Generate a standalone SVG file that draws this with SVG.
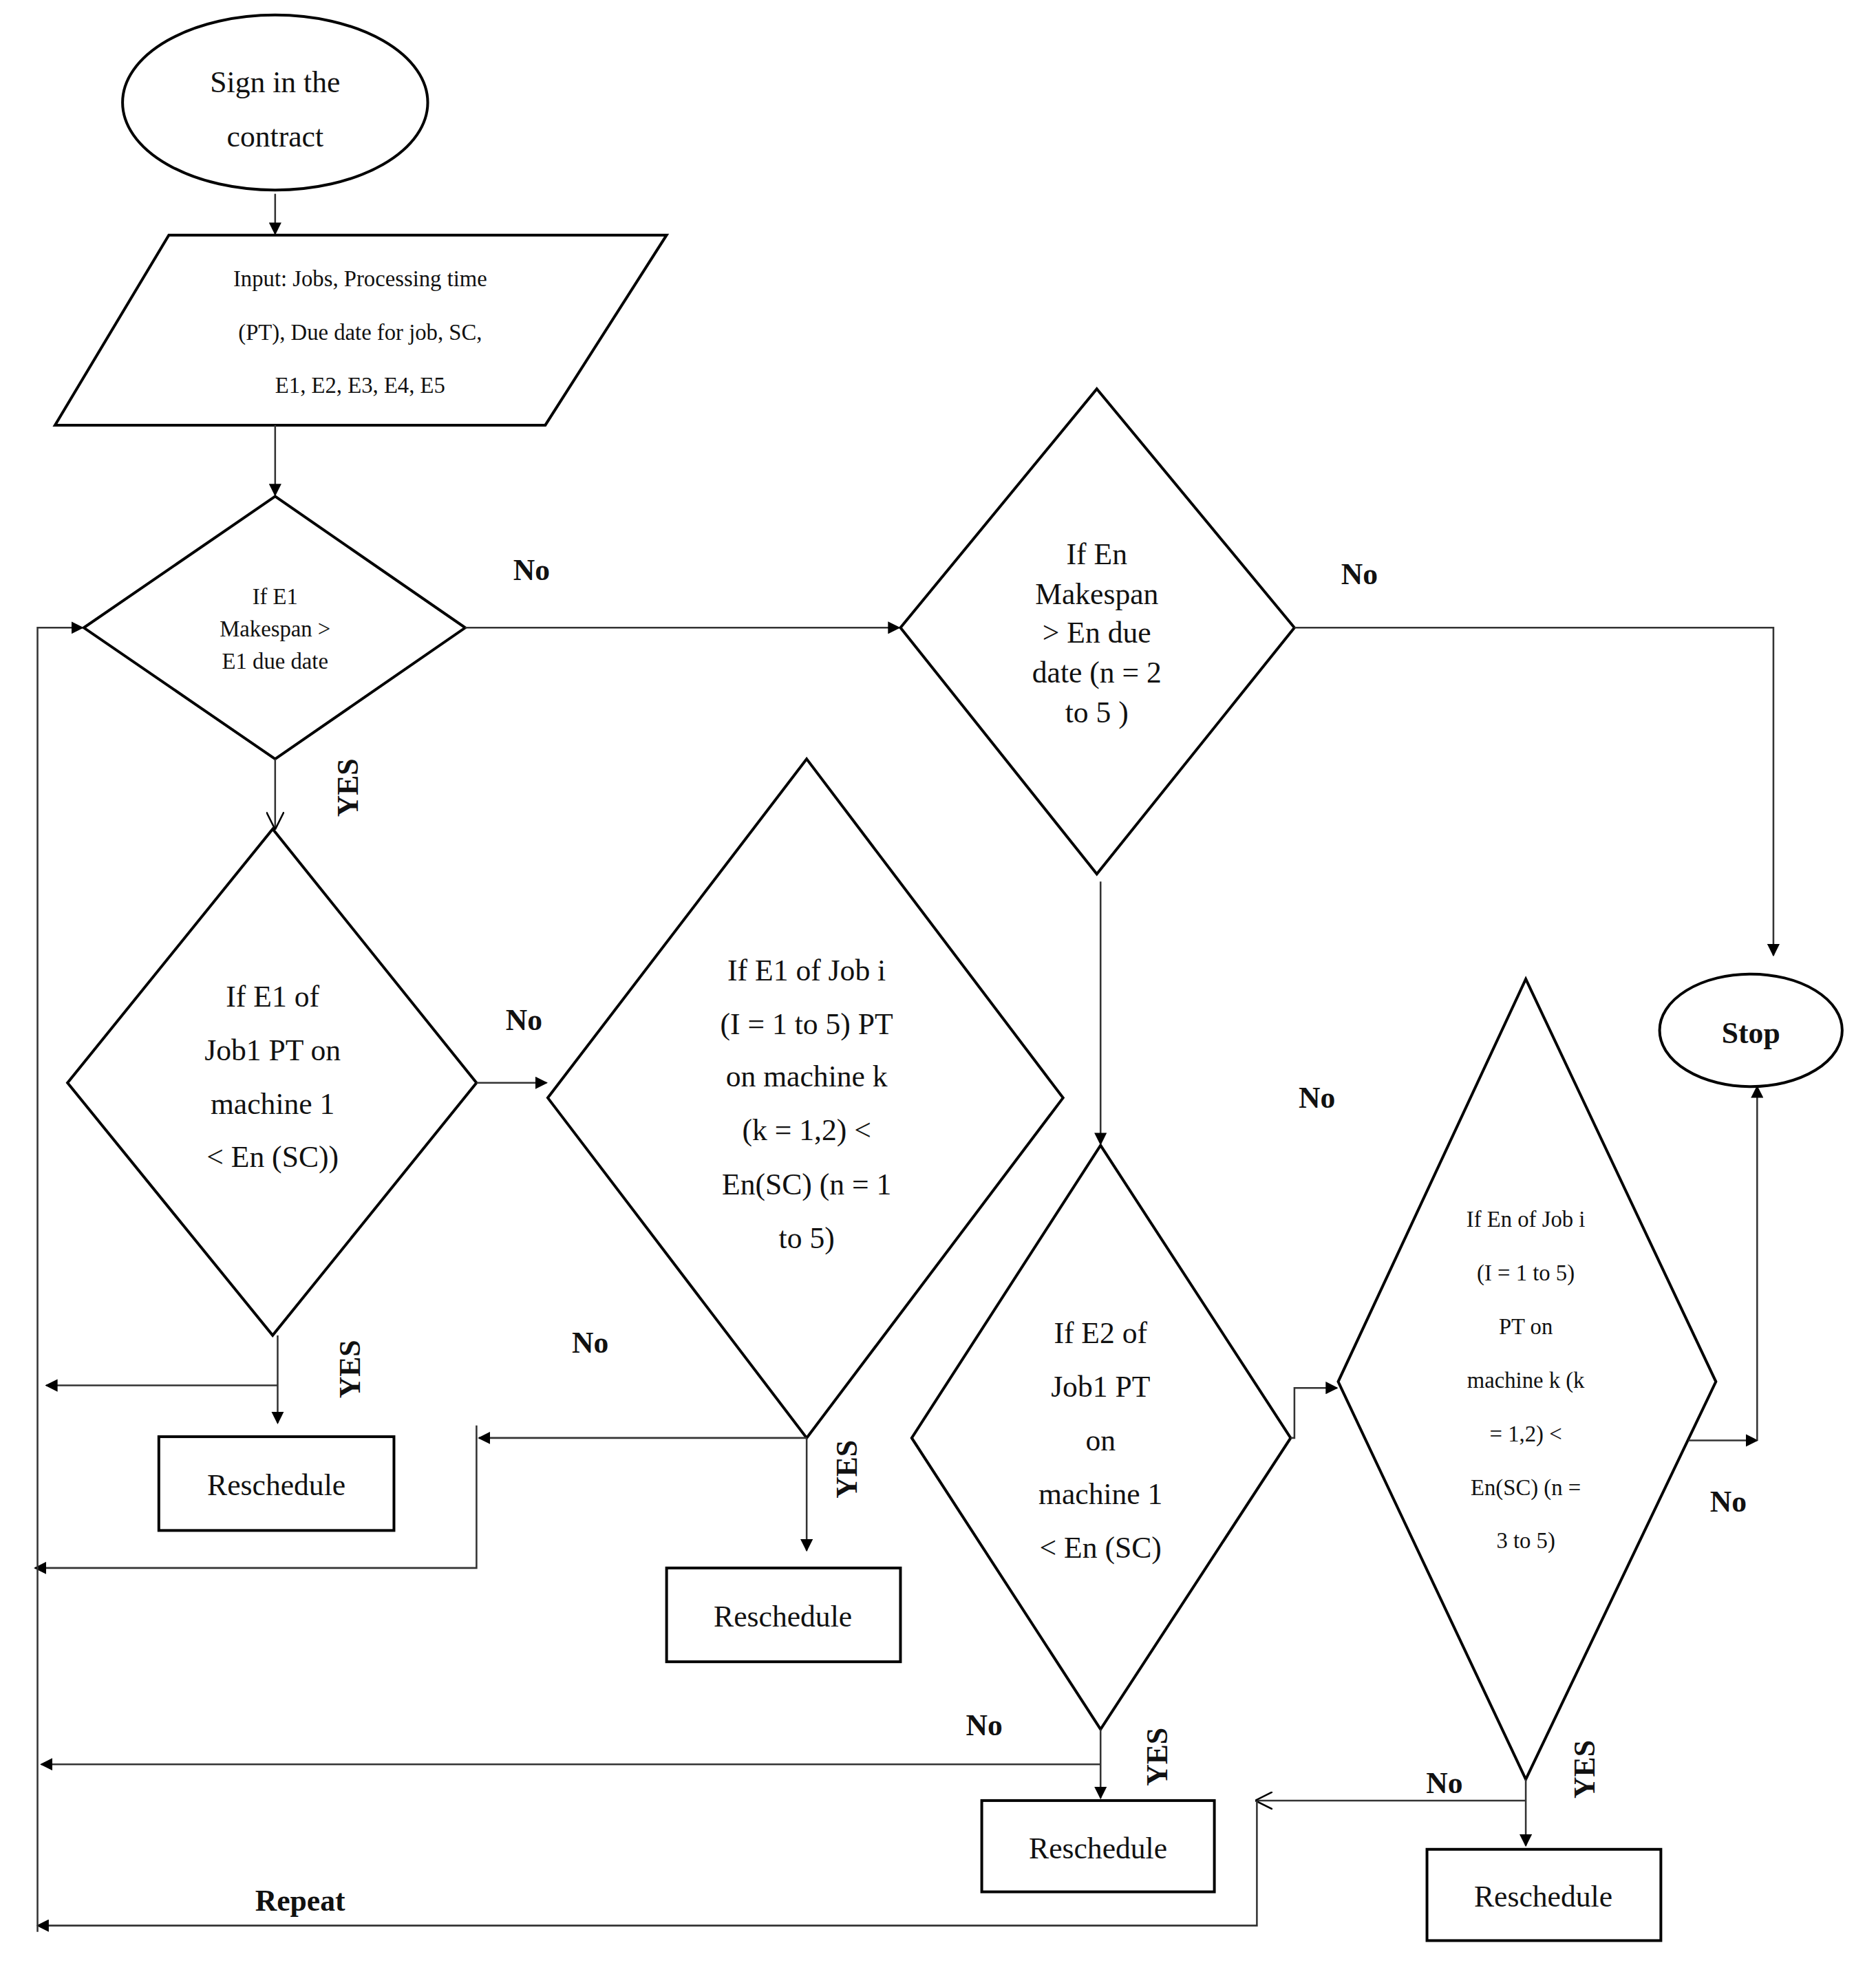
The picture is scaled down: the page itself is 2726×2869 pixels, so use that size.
<svg xmlns="http://www.w3.org/2000/svg" width="2726" height="2869" viewBox="0 0 2726 2869">
<style>
.s{fill:#fff;stroke:#000;stroke-width:2.2}
.c{fill:none;stroke:#333;stroke-width:1.4}
.t{font-family:"Liberation Serif",serif;font-size:24px;text-anchor:middle;fill:#111}
.sm{font-size:18px}
.b{font-family:"Liberation Serif",serif;font-weight:bold;font-size:24px;text-anchor:middle;fill:#111}
</style>
<defs>
<marker id="a" viewBox="0 0 10 10" refX="9" refY="5" markerWidth="10" markerHeight="10" markerUnits="userSpaceOnUse" orient="auto"><path d="M0,0L10,5L0,10z" fill="#000"/></marker>
<marker id="o" viewBox="0 0 10 10" refX="9" refY="5" markerWidth="14" markerHeight="14" markerUnits="userSpaceOnUse" orient="auto"><path d="M0,0L10,5L0,10" fill="none" stroke="#000" stroke-width="1"/></marker>
</defs>
<rect width="2726" height="2869" fill="#fff"/>
<g transform="scale(1.8173)">
<g id="start"><ellipse class="s" cx="220" cy="82" rx="122" ry="70"/><text class="t" x="220" y="74">Sign in the</text><text class="t" x="220" y="117">contract</text></g>
<g id="input"><polygon class="s" points="135,188 533,188 436,340 44,340"/><text class="t sm" x="288" y="229">Input: Jobs, Processing time</text><text class="t sm" x="288" y="272">(PT), Due date for job, SC,</text><text class="t sm" x="288" y="314">E1, E2, E3, E4, E5</text></g>
<g id="d1"><polygon class="s" points="220,397 372,502 220,607 67,502"/><text class="t sm" x="220" y="483">If E1</text><text class="t sm" x="220" y="509">Makespan &gt;</text><text class="t sm" x="220" y="535">E1 due date</text></g>
<g id="d2"><polygon class="s" points="877,311 1035,502 877,699 720,502"/><text class="t" x="877" y="451">If En</text><text class="t" x="877" y="483">Makespan</text><text class="t" x="877" y="514">&gt; En due</text><text class="t" x="877" y="546">date (n = 2</text><text class="t" x="877" y="578">to 5 )</text></g>
<g id="stop"><ellipse class="s" cx="1400" cy="824" rx="73" ry="45"/><text class="b" x="1400" y="834" font-size="26">Stop</text></g>
<g id="d3"><polygon class="s" points="218,663 381,866 218,1068 54,866"/><text class="t" x="218" y="805">If E1 of</text><text class="t" x="218" y="848">Job1 PT on</text><text class="t" x="218" y="891">machine 1</text><text class="t" x="218" y="933">&lt; En (SC))</text></g>
<g id="d4"><polygon class="s" points="645,607 850,878 645,1150 438,878"/><text class="t" x="645" y="784">If E1 of Job i</text><text class="t" x="645" y="827">(I = 1 to 5) PT</text><text class="t" x="645" y="869">on machine k</text><text class="t" x="645" y="912">(k = 1,2) &lt;</text><text class="t" x="645" y="955">En(SC) (n = 1</text><text class="t" x="645" y="998">to 5)</text></g>
<g id="d5"><polygon class="s" points="880,916 1032,1150 880,1383 729,1150"/><text class="t" x="880" y="1074">If E2 of</text><text class="t" x="880" y="1117">Job1 PT</text><text class="t" x="880" y="1160">on</text><text class="t" x="880" y="1203">machine 1</text><text class="t" x="880" y="1246">&lt; En (SC)</text></g>
<g id="d6"><polygon class="s" points="1220,783 1372,1105 1220,1423 1070,1105"/><text class="t sm" x="1220" y="981">If En of Job i</text><text class="t sm" x="1220" y="1024">(I = 1 to 5)</text><text class="t sm" x="1220" y="1067">PT on</text><text class="t sm" x="1220" y="1110">machine k (k</text><text class="t sm" x="1220" y="1153">= 1,2) &lt;</text><text class="t sm" x="1220" y="1196">En(SC) (n =</text><text class="t sm" x="1220" y="1238">3 to 5)</text></g>
<g id="r1"><rect class="s" x="127" y="1149" width="188" height="75"/><text class="t" x="221" y="1196">Reschedule</text></g>
<g id="r2"><rect class="s" x="533" y="1254" width="187" height="75"/><text class="t" x="626" y="1301">Reschedule</text></g>
<g id="r3"><rect class="s" x="785" y="1440" width="186" height="73"/><text class="t" x="878" y="1486">Reschedule</text></g>
<g id="r4"><rect class="s" x="1141" y="1479" width="187" height="73"/><text class="t" x="1234" y="1525">Reschedule</text></g>
<g id="connectors">
<path class="c" d="M220,155V187" marker-end="url(#a)"/>
<path class="c" d="M220,340V396" marker-end="url(#a)"/>
<path class="c" d="M372,502H719" marker-end="url(#a)"/>
<path class="c" d="M1035,502H1418V764" marker-end="url(#a)"/>
<path class="c" d="M220,607V662" marker-end="url(#o)"/>
<path class="c" d="M381,866H437" marker-end="url(#a)"/>
<path class="c" d="M222,1068V1138" marker-end="url(#a)"/>
<path class="c" d="M222,1108H37" marker-end="url(#a)"/>
<path class="c" d="M645,1150V1240" marker-end="url(#a)"/>
<path class="c" d="M645,1150H383" marker-end="url(#a)"/>
<path class="c" d="M381,1140V1254H28" marker-end="url(#a)"/>
<path class="c" d="M880,705V915" marker-end="url(#a)"/>
<path class="c" d="M1032,1150H1035V1110H1069" marker-end="url(#a)"/>
<path class="c" d="M1350,1152H1405" marker-end="url(#a)"/>
<path class="c" d="M1405,1152V869" marker-end="url(#a)"/>
<path class="c" d="M880,1383V1438" marker-end="url(#a)"/>
<path class="c" d="M880,1411H33" marker-end="url(#a)"/>
<path class="c" d="M1220,1423V1476" marker-end="url(#a)"/>
<path class="c" d="M1220,1440H1005" marker-end="url(#o)"/>
<path class="c" d="M1005,1440V1540H30" marker-end="url(#a)"/>
<path class="c" d="M30,1545V502H66" marker-end="url(#a)"/>
</g>
<g id="labels">
<text class="b" x="425" y="464">No</text>
<text class="b" x="1087" y="467">No</text>
<text class="b" x="419" y="824">No</text>
<text class="b" x="472" y="1082">No</text>
<text class="b" x="1053" y="886">No</text>
<text class="b" x="1382" y="1209">No</text>
<text class="b" x="787" y="1388">No</text>
<text class="b" x="1155" y="1434">No</text>
<text class="b" x="240" y="1528">Repeat</text>
<text class="b" transform="translate(286,630) rotate(-90)">YES</text>
<text class="b" transform="translate(288,1095) rotate(-90)">YES</text>
<text class="b" transform="translate(685,1175) rotate(-90)">YES</text>
<text class="b" transform="translate(933,1405) rotate(-90)">YES</text>
<text class="b" transform="translate(1275,1415) rotate(-90)">YES</text>
</g>
</g>
</svg>
